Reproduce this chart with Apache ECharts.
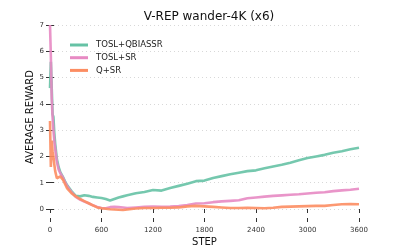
<!DOCTYPE html>
<html>
<head>
<meta charset="utf-8">
<script src="https://cdn.jsdelivr.net/npm/echarts@6/dist/echarts.min.js"></script>
<style>html,body{margin:0;padding:0;background:#fff;}#c{width:399px;height:247px;}</style>
</head>
<body>
<div id="c"></div>
<script>
var steps = [0,10,20,30,40,50,60,80,100,120,150,175,200,250,300,350,400,450,500,550,600,650,700,750,800,850,900,1000,1100,1200,1300,1400,1500,1600,1700,1800,1900,2000,2100,2200,2300,2400,2500,2600,2700,2800,2900,3000,3100,3200,3300,3400,3500,3600];
var seriesNames = ["TOSL+QBIASSR", "TOSL+SR", "Q+SR"];
var toslQbiassr = [4.6,5.6,4.6,3.6,3.5,2.9,2.5,1.9,1.6,1.4,1.22,1.05,0.9,0.68,0.5,0.48,0.52,0.5,0.46,0.44,0.42,0.38,0.32,0.38,0.44,0.48,0.52,0.6,0.65,0.72,0.7,0.8,0.88,0.96,1.06,1.08,1.18,1.25,1.32,1.38,1.44,1.47,1.55,1.62,1.68,1.76,1.85,1.94,2.0,2.06,2.14,2.2,2.27,2.33];
var toslSr = [7.0,5.8,4.2,3.5,3.0,2.6,2.3,1.8,1.5,1.36,1.2,1.02,0.87,0.64,0.46,0.36,0.28,0.22,0.14,0.08,0.04,0.03,0.07,0.08,0.07,0.06,0.04,0.06,0.08,0.09,0.08,0.09,0.11,0.15,0.21,0.22,0.26,0.29,0.31,0.33,0.41,0.44,0.47,0.5,0.52,0.54,0.56,0.59,0.62,0.64,0.68,0.71,0.73,0.77];
var qSr = [3.35,1.6,2.6,2.2,2.0,1.7,1.45,1.17,1.22,1.24,1.12,0.95,0.78,0.6,0.48,0.38,0.3,0.22,0.14,0.06,0.03,0.01,-0.01,-0.02,-0.03,-0.04,-0.02,0.02,0.04,0.04,0.05,0.05,0.06,0.1,0.12,0.1,0.08,0.06,0.04,0.04,0.05,0.04,0.03,0.05,0.08,0.09,0.1,0.11,0.12,0.12,0.15,0.18,0.19,0.18];
var xTicks = [0, 600, 1200, 1800, 2400, 3000, 3600];
var yTicks = [0, 1, 2, 3, 4, 5, 6, 7];
var colors = ["#66c2a5", "#e78ac3", "#fc8d62"];

function pairs(v) { return steps.map(function (s, i) { return [s, v[i]]; }); }
var font = "DejaVu Sans";
var tickStyle = { color: "#333", width: 1 };
var plain = function (v) { return String(v); };
var xMin = xTicks[0], xMax = xTicks[xTicks.length - 1];
var yMin = yTicks[0], yMax = yTicks[yTicks.length - 1];

var chart = echarts.init(document.getElementById("c"), null, { renderer: "canvas" });
chart.setOption({
  animation: false,
  backgroundColor: "#fff",
  color: colors,
  title: {
    text: "V-REP wander-4K (x6)",
    left: 204, top: 6, textAlign: "center",
    textStyle: { fontFamily: font, fontSize: 12, fontWeight: "normal", color: "#111" }
  },
  legend: {
    orient: "vertical", left: 65, top: 35,
    icon: "rect", itemWidth: 18, itemHeight: 3, itemGap: 2.7,
    data: seriesNames,
    textStyle: { fontFamily: font, fontSize: 8.5, color: "#222", lineHeight: 10, padding: [0, 0, 0, 3] }
  },
  grid: [
    { left: 50, right: 40, top: 25, bottom: 38, containLabel: false, outerBoundsMode: "none" },
    { left: 50, right: 40, top: 218, height: 4, containLabel: false, outerBoundsMode: "none" }
  ],
  xAxis: [{
    type: "value", gridIndex: 0, min: xMin, max: xMax, interval: 600,
    position: "bottom",
    axisLine: { show: false },
    axisTick: { show: false },
    axisLabel: { show: false },
    splitLine: { show: false }
  }, {
    type: "value", gridIndex: 0, min: xMin, max: xMax, interval: 600,
    position: "top",
    axisLine: { show: false },
    axisTick: { show: true, inside: true, length: 4, lineStyle: tickStyle },
    axisLabel: { show: false },
    splitLine: { show: false }
  }, {
    type: "value", gridIndex: 1, min: xMin, max: xMax, interval: 600,
    position: "bottom",
    name: "STEP", nameLocation: "middle", nameGap: 15, nameMoveOverlap: false,
    nameTextStyle: { fontFamily: font, fontSize: 10, color: "#111" },
    axisLine: { show: false },
    axisTick: { show: true, inside: true, length: 4, lineStyle: tickStyle },
    axisLabel: { fontFamily: font, fontSize: 7, color: "#333", margin: 5, formatter: plain },
    splitLine: { show: false }
  }],
  yAxis: [{
    type: "value", gridIndex: 0, min: yMin, max: yMax, interval: 1,
    position: "left",
    name: "AVERAGE REWARD", nameLocation: "middle", nameGap: 15, nameMoveOverlap: false,
    nameTextStyle: { fontFamily: font, fontSize: 10, color: "#111" },
    axisLine: { show: false },
    axisTick: { show: true, inside: true, length: 4, lineStyle: tickStyle },
    axisLabel: { fontFamily: font, fontSize: 7, color: "#333", margin: 6, formatter: plain },
    splitLine: { show: true, lineStyle: { color: "#d8d8d8", type: [1, 3], width: 1 } }
  }, {
    type: "value", gridIndex: 0, min: yMin, max: yMax, interval: 1,
    position: "right",
    axisLine: { show: false },
    axisTick: { show: true, inside: true, length: 4, lineStyle: tickStyle },
    axisLabel: { show: false },
    splitLine: { show: false }
  }, {
    type: "value", gridIndex: 1, min: 0, max: 1, show: false
  }],
  series: [
    { name: seriesNames[0], type: "line", xAxisIndex: 0, yAxisIndex: 0, data: pairs(toslQbiassr), showSymbol: false, symbol: "none", clip: false, lineStyle: { width: 2.6, opacity: 0.9 } },
    { name: seriesNames[1], type: "line", xAxisIndex: 0, yAxisIndex: 0, data: pairs(toslSr), showSymbol: false, symbol: "none", clip: false, lineStyle: { width: 2.6, opacity: 0.9 } },
    { name: seriesNames[2], type: "line", xAxisIndex: 0, yAxisIndex: 0, data: pairs(qSr), showSymbol: false, symbol: "none", clip: false, lineStyle: { width: 2.6, opacity: 0.9 } }
  ]
});
</script>
</body>
</html>
